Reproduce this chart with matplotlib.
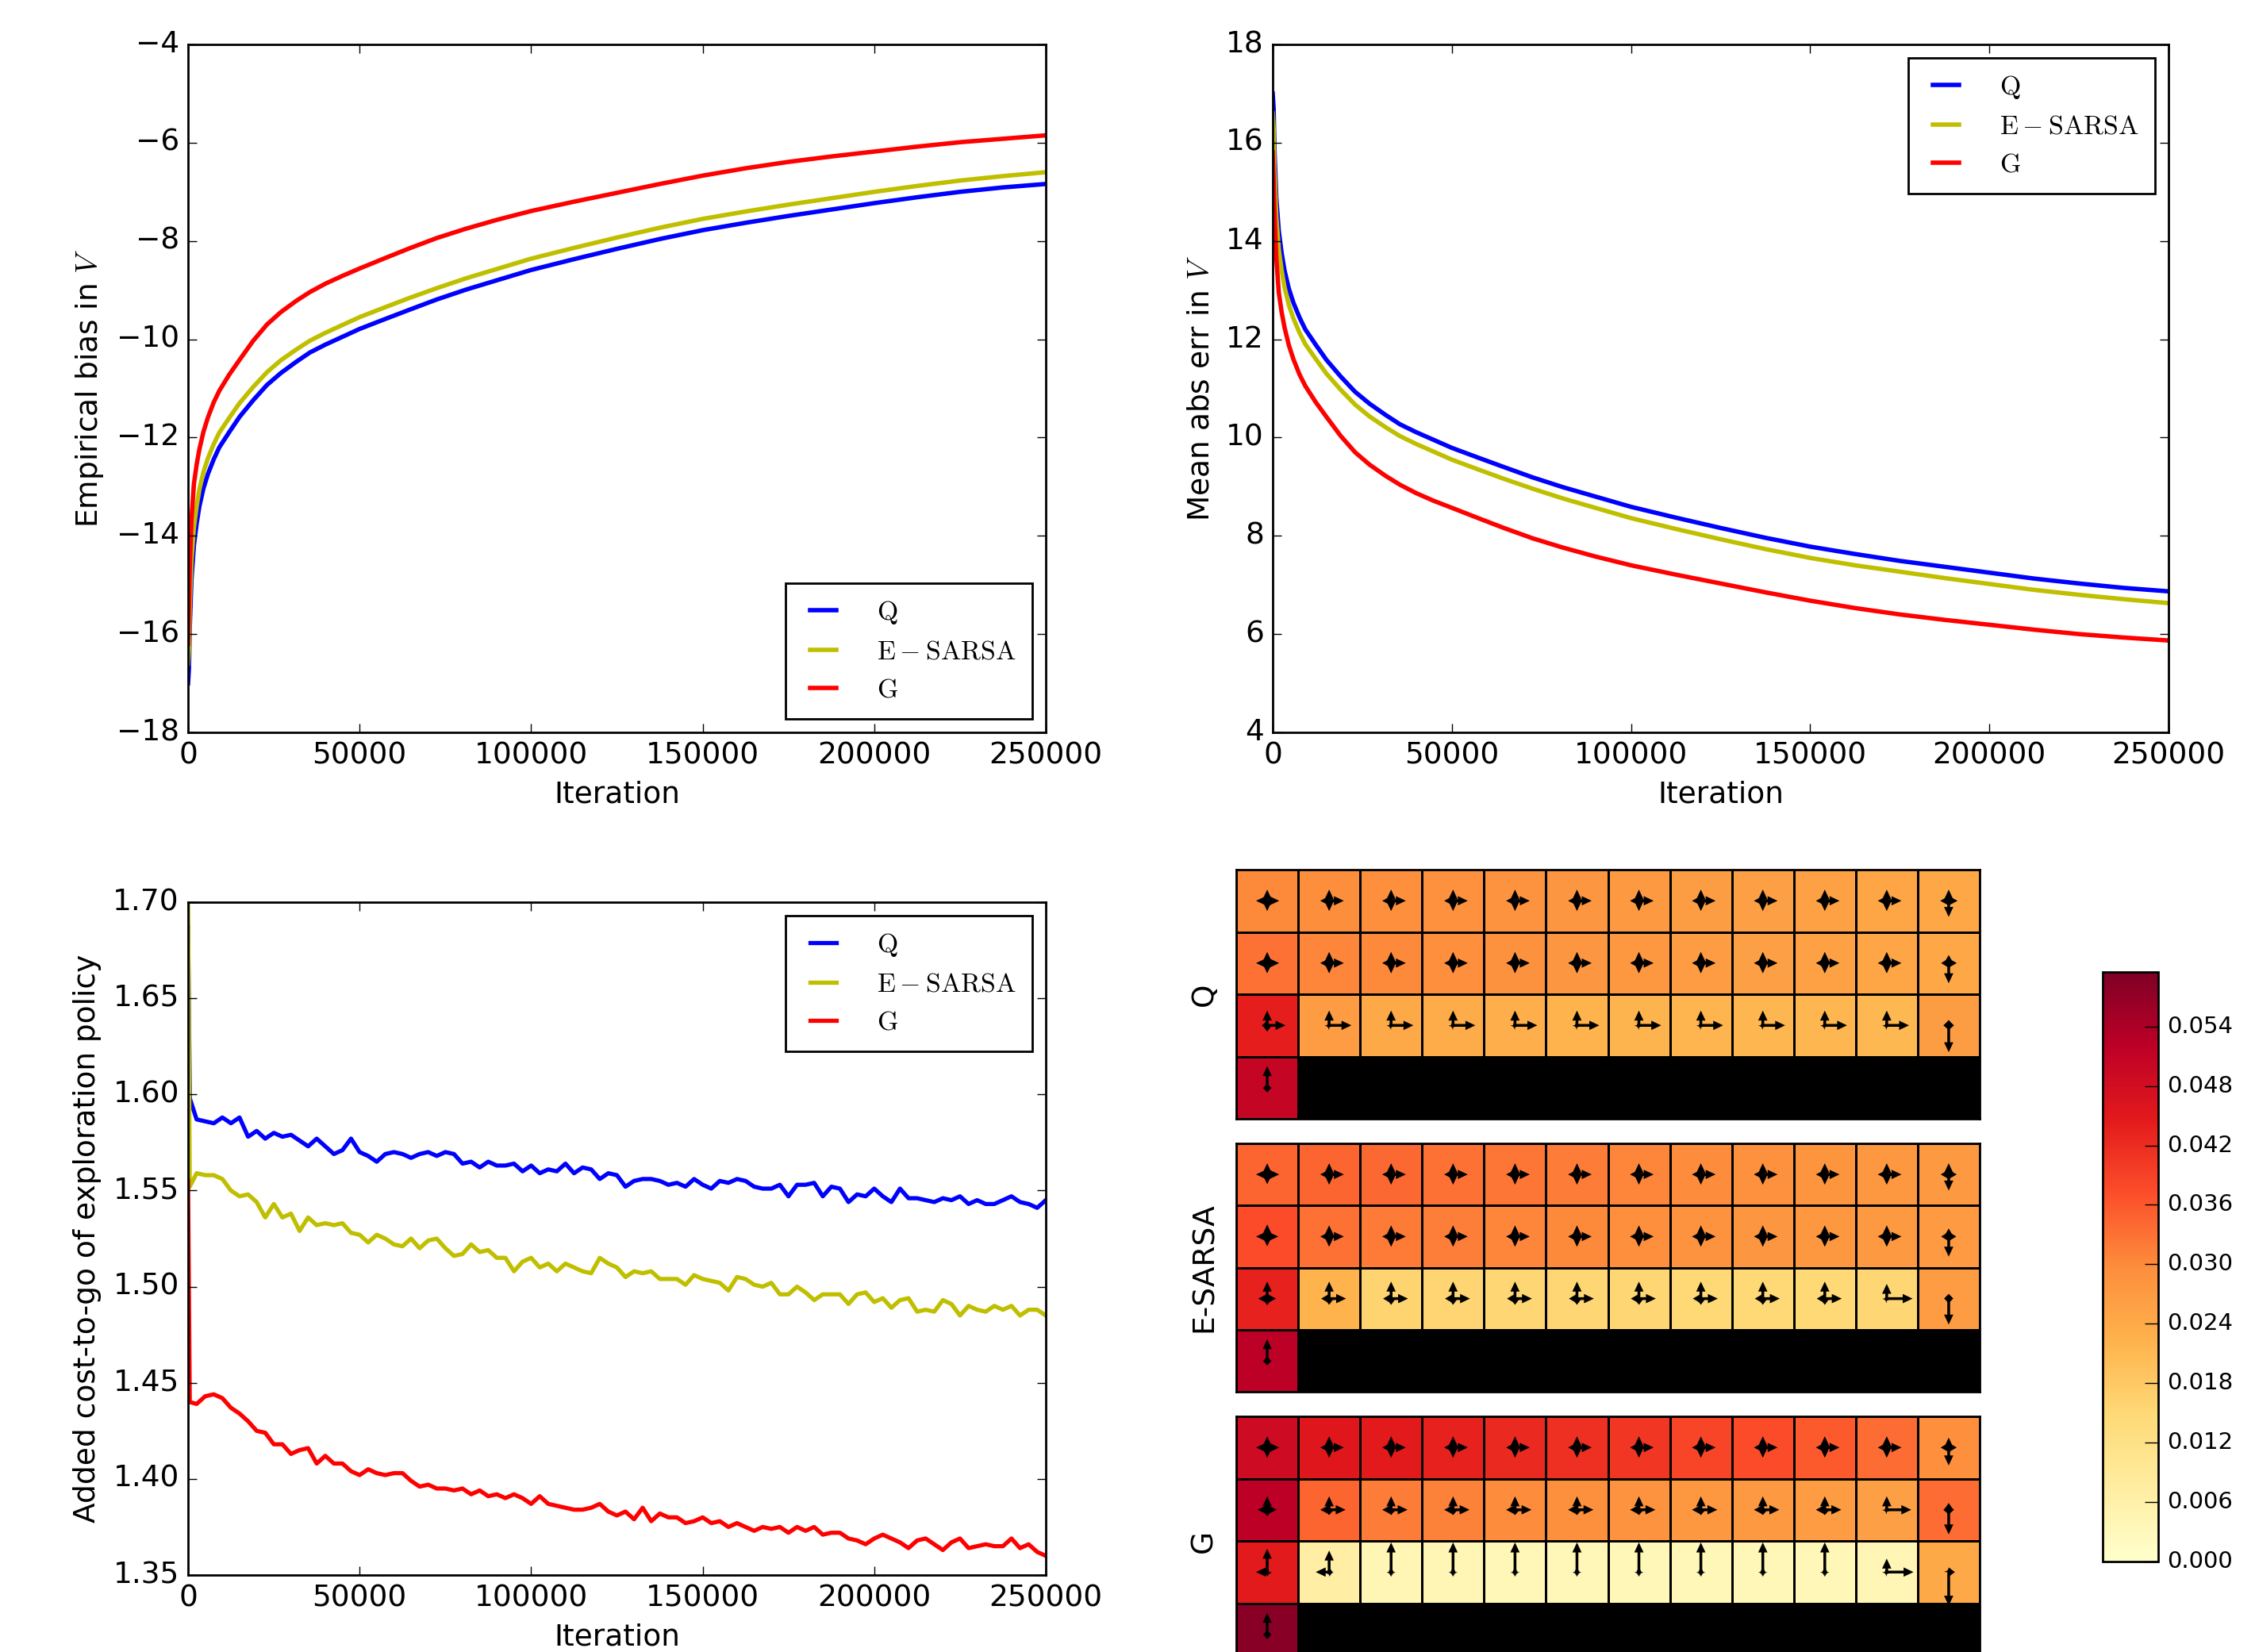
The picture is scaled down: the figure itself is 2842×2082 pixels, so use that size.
import numpy as np
import matplotlib
matplotlib.use('Agg')
import matplotlib.pyplot as plt

plt.style.use('classic')
plt.rcParams['font.family'] = ['DejaVu Sans']
plt.rcParams['mathtext.fontset'] = 'cm'

# ---------------- data ----------------
names = [r'$\mathrm{Q}$', r'$\mathrm{E-SARSA}$', r'$\mathrm{G}$']
line_colors = ['b', 'y', 'r']

# smooth curves (bias / abs error)
iters_smooth = [0, 250, 500, 1000, 1700, 2500, 3300, 4500, 5800, 7500, 9100, 12000, 15000,
                19000, 23000, 27000, 31500, 35500, 40000, 45000, 50000, 57000, 64500, 72500,
                81000, 90000, 100000, 112500, 125000, 137500, 150000, 162500, 175000, 187500,
                200000, 212500, 225000, 237500, 250000]
bias_q = [-17.0, -16.7, -15.85, -14.88, -14.2, -13.75, -13.4, -13.03, -12.74, -12.44, -12.2,
          -11.89, -11.58, -11.24, -10.93, -10.69, -10.46, -10.27, -10.11, -9.95, -9.79, -9.6,
          -9.4, -9.19, -8.99, -8.8, -8.59, -8.37, -8.16, -7.96, -7.78, -7.63, -7.49, -7.36,
          -7.23, -7.11, -7.0, -6.91, -6.84]
bias_esarsa = [-16.6, -16.3, -15.45, -14.5, -13.83, -13.4, -13.06, -12.7, -12.42, -12.13, -11.9,
               -11.6, -11.3, -10.97, -10.67, -10.43, -10.21, -10.03, -9.87, -9.71, -9.55, -9.36,
               -9.16, -8.96, -8.76, -8.57, -8.36, -8.14, -7.93, -7.73, -7.55, -7.4, -7.26, -7.13,
               -7.0, -6.88, -6.77, -6.68, -6.6]
bias_g = [-16.2, -15.5, -14.65, -13.67, -12.95, -12.55, -12.24, -11.88, -11.59, -11.28, -11.05,
          -10.72, -10.42, -10.03, -9.7, -9.45, -9.22, -9.04, -8.87, -8.71, -8.56, -8.36,
          -8.15, -7.94, -7.75, -7.57, -7.39, -7.2, -7.02, -6.84, -6.67, -6.52, -6.39, -6.28,
          -6.18, -6.08, -5.99, -5.92, -5.85]

err_q = [17.0, 16.7, 15.85, 14.88, 14.2, 13.75, 13.4, 13.03, 12.74, 12.44, 12.2,
         11.89, 11.58, 11.24, 10.93, 10.69, 10.46, 10.27, 10.11, 9.95, 9.79, 9.6,
         9.4, 9.19, 8.99, 8.8, 8.59, 8.37, 8.16, 7.96, 7.78, 7.63, 7.49, 7.37,
         7.25, 7.13, 7.03, 6.94, 6.87]
err_esarsa = [16.6, 16.3, 15.45, 14.5, 13.83, 13.4, 13.06, 12.7, 12.42, 12.13, 11.9,
              11.6, 11.3, 10.97, 10.67, 10.43, 10.21, 10.03, 9.87, 9.71, 9.55, 9.36,
              9.16, 8.96, 8.76, 8.57, 8.36, 8.14, 7.93, 7.73, 7.55, 7.4, 7.27, 7.14,
              7.02, 6.9, 6.8, 6.71, 6.63]
err_g = [15.8, 15.3, 14.6, 13.67, 12.95, 12.55, 12.24, 11.88, 11.59, 11.28, 11.05,
         10.72, 10.42, 10.03, 9.7, 9.45, 9.22, 9.04, 8.87, 8.71, 8.57, 8.37,
         8.16, 7.95, 7.76, 7.58, 7.4, 7.21, 7.03, 6.85, 6.68, 6.53, 6.4, 6.29,
         6.19, 6.09, 6.0, 5.93, 5.87]

# noisy curves (added cost-to-go)
iters_noisy = [0, 500] + list(range(2500, 250001, 2500))
cost_q = [1.687, 1.598,
          1.587, 1.586, 1.585, 1.588, 1.585, 1.588, 1.578, 1.581, 1.577, 1.580,
          1.578, 1.579, 1.576, 1.573, 1.577, 1.573, 1.569, 1.571, 1.577, 1.570,
          1.568, 1.565, 1.569, 1.570, 1.569, 1.567, 1.569, 1.570, 1.568, 1.570,
          1.569, 1.564, 1.565, 1.562, 1.565, 1.563, 1.563, 1.564, 1.560, 1.563,
          1.559, 1.561, 1.560, 1.564, 1.559, 1.562, 1.561, 1.556, 1.559, 1.558,
          1.552,
          1.555, 1.556, 1.556, 1.555, 1.553, 1.554, 1.552, 1.556, 1.553, 1.551,
          1.555, 1.554, 1.556, 1.555, 1.552, 1.551, 1.551, 1.553, 1.547, 1.553,
          1.553, 1.554, 1.547, 1.552, 1.551, 1.544, 1.548, 1.547, 1.551, 1.547,
          1.544, 1.551, 1.546, 1.546, 1.545, 1.544, 1.546, 1.545, 1.547, 1.543,
          1.545, 1.543, 1.543, 1.545, 1.547, 1.544, 1.543, 1.541, 1.545]
cost_esarsa = [1.700, 1.552,
               1.559, 1.558, 1.558, 1.556, 1.550, 1.547, 1.548, 1.544, 1.536, 1.543,
               1.536, 1.538, 1.529, 1.536, 1.532, 1.533, 1.532, 1.533, 1.528, 1.527,
               1.523, 1.527, 1.525, 1.522, 1.521, 1.525, 1.520, 1.524, 1.525, 1.520,
               1.516, 1.517, 1.522, 1.518, 1.519, 1.515, 1.515, 1.508, 1.513, 1.515,
               1.510, 1.512, 1.508, 1.512, 1.510, 1.508, 1.507, 1.515, 1.512, 1.510,
               1.505,
               1.508, 1.507, 1.508, 1.504, 1.504, 1.504, 1.501, 1.506, 1.504, 1.503,
               1.502, 1.498, 1.505, 1.504, 1.501, 1.500, 1.502, 1.496, 1.496, 1.500,
               1.497, 1.493, 1.496, 1.496, 1.496, 1.491, 1.496, 1.497, 1.492, 1.494,
               1.489, 1.493, 1.494, 1.487, 1.488, 1.487, 1.493, 1.491, 1.485, 1.490,
               1.488, 1.487, 1.490, 1.488, 1.490, 1.485, 1.488, 1.488, 1.485]
cost_g = [1.555, 1.440,
          1.439, 1.443, 1.444, 1.442, 1.437, 1.434, 1.430, 1.425, 1.424, 1.418,
          1.418, 1.413, 1.415, 1.416, 1.408, 1.412, 1.408, 1.408, 1.404, 1.402,
          1.405, 1.403, 1.402, 1.403, 1.403, 1.399, 1.396, 1.397, 1.395, 1.395,
          1.394, 1.395, 1.392, 1.394, 1.391, 1.392, 1.390, 1.392, 1.390, 1.387,
          1.391, 1.387, 1.386, 1.385, 1.384, 1.384, 1.385, 1.387, 1.383, 1.381,
          1.383,
          1.379, 1.385, 1.378, 1.382, 1.380, 1.380, 1.377, 1.378, 1.380, 1.377,
          1.378, 1.375, 1.377, 1.375, 1.373, 1.375, 1.374, 1.375, 1.372, 1.375,
          1.373, 1.375, 1.371, 1.372, 1.372, 1.369, 1.368, 1.366, 1.369, 1.371,
          1.369, 1.367, 1.364, 1.368, 1.369, 1.366, 1.363, 1.367, 1.369, 1.364,
          1.365, 1.366, 1.365, 1.365, 1.369, 1.364, 1.366, 1.362, 1.360]

# cliff-walking grids, value per cell (nan = cliff)
nan = np.nan
q_values = [
    [0.0300, 0.0297, 0.0293, 0.0289, 0.0284, 0.0279, 0.0273, 0.0267, 0.0262, 0.0256, 0.0250, 0.0245],
    [0.0330, 0.0305, 0.0300, 0.0293, 0.0287, 0.0281, 0.0275, 0.0268, 0.0262, 0.0256, 0.0250, 0.0246],
    [0.0440, 0.0268, 0.0240, 0.0235, 0.0228, 0.0222, 0.0220, 0.0218, 0.0216, 0.0214, 0.0213, 0.0265],
    [0.0505] + [nan] * 11,
]
esarsa_values = [
    [0.0345, 0.0345, 0.0340, 0.0330, 0.0325, 0.0318, 0.0305, 0.0298, 0.0290, 0.0283, 0.0278, 0.0272],
    [0.0375, 0.0330, 0.0320, 0.0315, 0.0305, 0.0300, 0.0293, 0.0285, 0.0280, 0.0276, 0.0272, 0.0270],
    [0.0435, 0.0222, 0.0160, 0.0157, 0.0155, 0.0153, 0.0152, 0.0151, 0.0150, 0.0150, 0.0152, 0.0268],
    [0.0520] + [nan] * 11,
]
g_values = [
    [0.0490, 0.0455, 0.0445, 0.0435, 0.0425, 0.0415, 0.0405, 0.0385, 0.0375, 0.0360, 0.0335, 0.0295],
    [0.0520, 0.0345, 0.0318, 0.0310, 0.0298, 0.0292, 0.0285, 0.0278, 0.0272, 0.0268, 0.0262, 0.0335],
    [0.0445, 0.0070, 0.0040, 0.0038, 0.0037, 0.0037, 0.0037, 0.0037, 0.0037, 0.0037, 0.0038, 0.0240],
    [0.0585] + [nan] * 11,
]

# policy per cell: (up, down, left, right); None = cliff
STAR = (0.25, 0.23, 0.20, 0.33)
q_policy = [
    [(0.25, 0.23, 0.25, 0.27)] + [STAR] * 10 + [(0.25, 0.36, 0.19, 0.20)],
    [(0.25, 0.23, 0.25, 0.27)] + [STAR] * 10 + [(0.18, 0.45, 0.17, 0.18)],
    [(0.33, 0.14, 0.12, 0.41)] + [(0.33, 0.05, 0.05, 0.50)] * 10 + [(0.12, 0.60, 0.12, 0.12)],
    [(0.48, 0.10, 0.08, 0.08)] + [None] * 11,
]
esarsa_policy = [
    [(0.25, 0.22, 0.25, 0.27)] + [STAR] * 10 + [(0.25, 0.36, 0.18, 0.18)],
    [(0.27, 0.22, 0.25, 0.25)] + [STAR] * 10 + [(0.18, 0.45, 0.17, 0.17)],
    [(0.38, 0.15, 0.20, 0.20)] + [(0.38, 0.14, 0.18, 0.38)] * 9
    + [(0.33, 0.05, 0.05, 0.58), (0.10, 0.58, 0.10, 0.10)],
    [(0.48, 0.10, 0.08, 0.08)] + [None] * 11,
]
g_policy = [
    [(0.25, 0.23, 0.25, 0.27)] + [STAR] * 10 + [(0.22, 0.40, 0.18, 0.18)],
    [(0.30, 0.15, 0.22, 0.22)] + [(0.30, 0.12, 0.20, 0.37)] * 9
    + [(0.30, 0.05, 0.05, 0.55), (0.15, 0.55, 0.12, 0.12)],
    [(0.52, 0.08, 0.25, 0.05), (0.48, 0.06, 0.30, 0.08)] + [(0.66, 0.05, 0.06, 0.06)] * 8
    + [(0.30, 0.05, 0.05, 0.60), (0.05, 0.75, 0.03, 0.14)],
    [(0.48, 0.10, 0.08, 0.08)] + [None] * 11,
]
grid_names = ['Q', 'E-SARSA', 'G']
cbar_ticks = [0.000, 0.006, 0.012, 0.018, 0.024, 0.030, 0.036, 0.042, 0.048, 0.054]
vmax = 0.0595

# ---------------- figure ----------------
W, H = 2842, 2082
DPI = 200
fig = plt.figure(figsize=(W / DPI, H / DPI), dpi=DPI, facecolor='w')

FS = 13.5


def px_axes(x0, y0, x1, y1):
    # pixel box (top-left origin) -> figure axes
    return fig.add_axes([x0 / W, 1 - y1 / H, (x1 - x0) / W, (y1 - y0) / H])


def style_line_axes(ax):
    ax.tick_params(labelsize=FS)
    ax.set_xlim(0, 250000)
    ax.set_xticks([0, 50000, 100000, 150000, 200000, 250000])
    ax.set_xlabel('Iteration', fontsize=FS)


def add_legend(ax, loc):
    ax.legend(loc=loc, fontsize=12.2, handlelength=1.6, handletextpad=1.2,
              borderpad=0.6, labelspacing=0.45, borderaxespad=0.5)


# top-left: bias
ax1 = px_axes(237, 56, 1318, 923)
for y, lab, c in zip([bias_q, bias_esarsa, bias_g], names, line_colors):
    ax1.plot(iters_smooth, y, color=c, lw=2.0, label=lab)
ax1.set_ylim(-18, -4)
ax1.set_yticks(range(-18, -3, 2))
ax1.set_ylabel(r'Empirical bias in $V$', fontsize=FS)
style_line_axes(ax1)
add_legend(ax1, 'lower right')

# top-right: mean abs err
ax2 = px_axes(1604, 56, 2733, 923)
for y, lab, c in zip([err_q, err_esarsa, err_g], names, line_colors):
    ax2.plot(iters_smooth, y, color=c, lw=2.0, label=lab)
ax2.set_ylim(4, 18)
ax2.set_yticks(range(4, 19, 2))
ax2.set_ylabel(r'Mean abs err in $V$', fontsize=FS)
style_line_axes(ax2)
add_legend(ax2, 'upper right')

# bottom-left: added cost-to-go
ax3 = px_axes(237, 1137, 1318, 1985)
for y, lab, c in zip([cost_q, cost_esarsa, cost_g], names, line_colors):
    ax3.plot(iters_noisy, y, color=c, lw=1.9, label=lab)
ax3.set_ylim(1.35, 1.70)
ax3.set_yticks([1.35, 1.40, 1.45, 1.50, 1.55, 1.60, 1.65, 1.70])
ax3.set_ylabel('Added cost-to-go of exploration policy', fontsize=FS)
style_line_axes(ax3)
add_legend(ax3, 'upper right')

# heatmaps with policy arrows
cmap = plt.get_cmap('YlOrRd').copy()
cmap.set_bad('black')
ARROW_SCALE = 0.72
HEAD_LEN = 0.16
HEAD_W = 0.15
SHAFT_W = 0.045
dirs = [(0, -1), (0, 1), (-1, 0), (1, 0)]

boxes = [(1558, 1096, 2495, 1410), (1558, 1441, 2495, 1754), (1558, 1785, 2495, 2099)]
mesh = None
for box, vals, pol, nm in zip(boxes, [q_values, esarsa_values, g_values],
                              [q_policy, esarsa_policy, g_policy], grid_names):
    ax = px_axes(*box)
    data = np.ma.masked_invalid(np.array(vals, dtype=float))
    mesh = ax.pcolormesh(np.arange(13), np.arange(5), data, cmap=cmap, vmin=0, vmax=vmax,
                         edgecolors='k', linewidth=0.5)
    ax.set_xlim(0, 12)
    ax.set_ylim(4, 0)
    ax.set_xticks([])
    ax.set_yticks([])
    ax.set_ylabel(nm, fontsize=FS, labelpad=8)
    for r, row in enumerate(pol):
        for c, p in enumerate(row):
            if p is None:
                continue
            cx, cy = c + 0.5, r + 0.5
            for (dx, dy), prob in zip(dirs, p):
                L = prob * ARROW_SCALE
                if L <= 0:
                    continue
                ax.arrow(cx, cy, dx * L, dy * L, width=SHAFT_W, head_width=HEAD_W,
                         head_length=min(HEAD_LEN, L), length_includes_head=True,
                         fc='k', ec='k', lw=0)

cax = px_axes(2650, 1225, 2720, 1968)
cb = fig.colorbar(mesh, cax=cax, ticks=cbar_ticks, format='%.3f')
cb.ax.tick_params(labelsize=10.5, direction='in', length=6)

fig.savefig('out.png', dpi=DPI, facecolor='w')
